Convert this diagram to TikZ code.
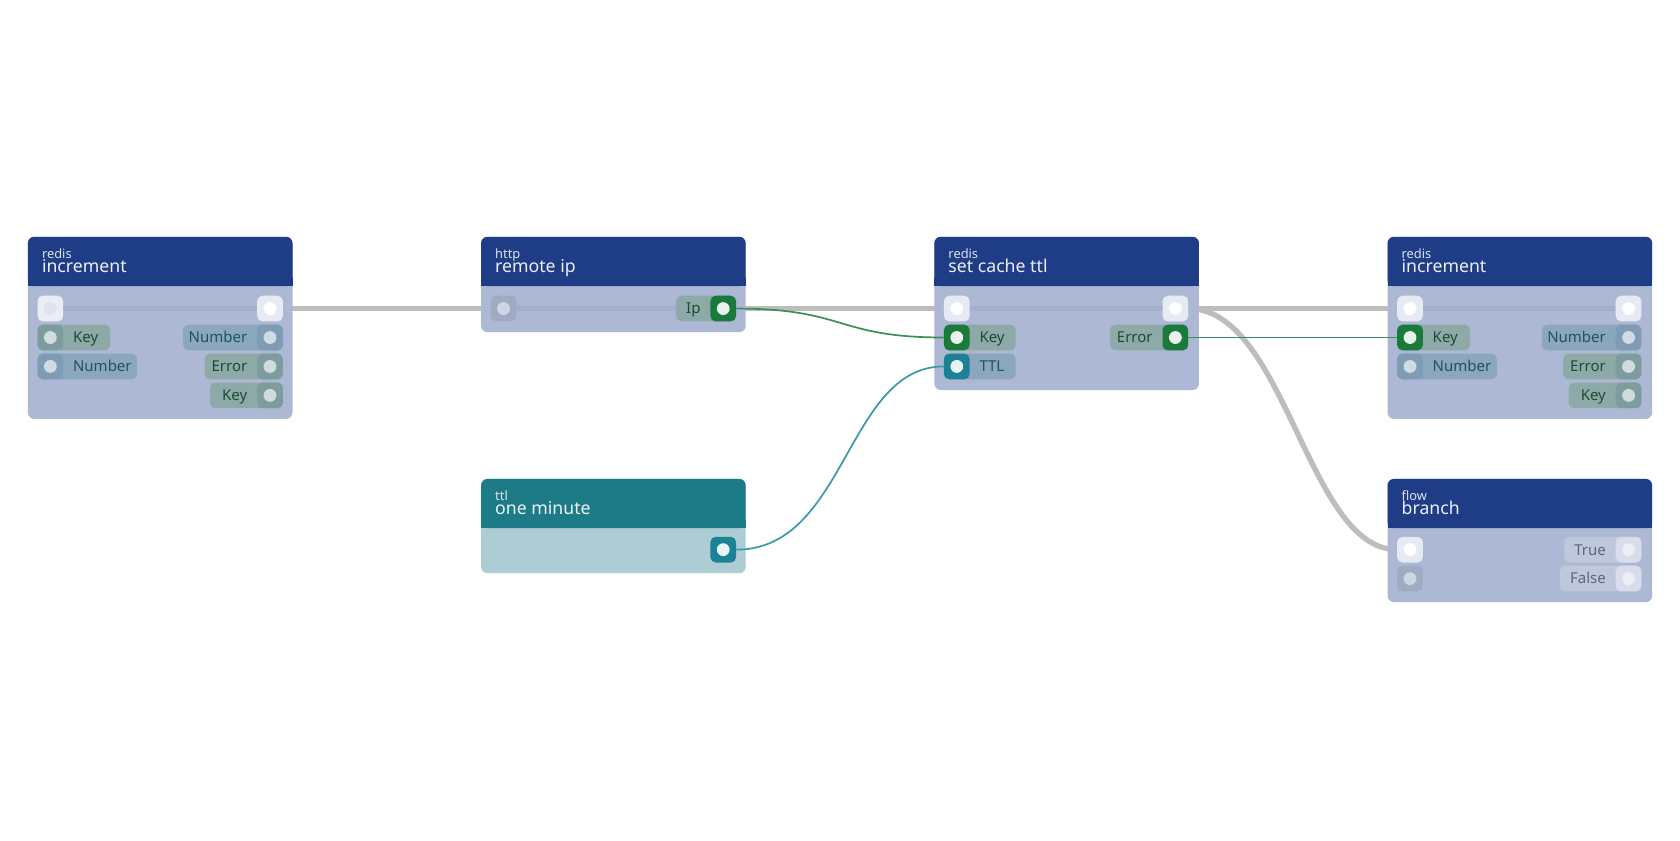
\documentclass[tikz,border=0pt]{standalone}
\usepackage{fontspec}
\setmainfont{Noto Sans}
\usetikzlibrary{positioning}

\definecolor{headblue}{HTML}{1F3D87}
\definecolor{bodyblue}{HTML}{ADB9D4}
\definecolor{headteal}{HTML}{1D7A87}
\definecolor{bodyteal}{HTML}{ADCCD3}
\definecolor{keypill}{HTML}{8DA9A8}
\definecolor{keysock}{HTML}{7E9C9E}
\definecolor{keytext}{HTML}{1D4D2E}
\definecolor{numpill}{HTML}{8AA7BC}
\definecolor{numsock}{HTML}{7F9CB4}
\definecolor{numtext}{HTML}{1E5468}
\definecolor{boolpill}{HTML}{BFC7DD}
\definecolor{booltext}{HTML}{5E6680}
\definecolor{wiregray}{HTML}{BDBDBD}
\definecolor{execline}{HTML}{A2AECB}
\definecolor{activegreen}{HTML}{1A7A3C}
\definecolor{activeteal}{HTML}{1A8294}
\definecolor{wiregreen}{HTML}{3A8F5A}
\definecolor{wireteal}{HTML}{3A9AA6}

\pgfdeclarelayer{wires}
\pgfsetlayers{wires,main}

\tikzset{
    sock/.style = {rectangle, rounded corners=5pt, minimum size=24pt, inner sep=0pt},
    plabel/.style = {font=\fontsize{14}{14}\selectfont, inner sep=0pt},
    exec/.style = {wiregray, line width=5pt},
}

% socket: name, x, y, background, dot
\newcommand{\sock}[5]{
    \node[sock, fill=#4] (#1) at (#2,#3) {};
    \fill[#5] (#1.center) circle (6pt);
}
% input pill: x, y, width, fill, text colour, label
\newcommand{\inpill}[6]{
    \fill[#4, rounded corners=5pt] (#1-12,#2-12) rectangle (#1-12+#3,#2+12);
    \node[plabel, text=#5, anchor=base west] at (#1+21,#2+5) {#6};
}
% output pill: x, y, width, fill, text colour, label
\newcommand{\outpill}[6]{
    \fill[#4, rounded corners=5pt] (#1+12-#3,#2-12) rectangle (#1+12,#2+12);
    \node[plabel, text=#5, anchor=base east] at (#1-21,#2+5) {#6};
}
% block: x, top, bottom, category, title, head, body
\newcommand{\block}[7]{
    \fill[#7, rounded corners=6pt] (#1,#2) rectangle (#1+247,#3);
    \fill[#6, rounded corners=6pt] (#1,#2) rectangle (#1+247,#2+46);
    \fill[#6] (#1,#2+38) rectangle (#1+247,#2+46);
    \node[anchor=base west, inner sep=0pt, text=white!85!#6, font=\fontsize{12}{12}\selectfont] at (#1+13,#2+20) {#4};
    \node[anchor=base west, inner sep=0pt, text=white!92!#6, font=\fontsize{16.5}{16.5}\selectfont] at (#1+13,#2+33) {#5};
}

\begin{document}
\begin{tikzpicture}[x=1pt, y=-1pt]

    \useasboundingbox (0,0) rectangle (1568,784);

    % redis increment (left)
    \block{26}{221}{391}{redis}{increment}{headblue}{bodyblue}
    \draw[execline, line width=4pt] (47,288) -- (252,288);
    \inpill{47}{315}{68}{keypill}{keytext}{Key}
    \inpill{47}{342}{93}{numpill}{numtext}{Number}
    \outpill{252}{315}{93}{numpill}{numtext}{Number}
    \outpill{252}{342}{73}{keypill}{keytext}{Error}
    \outpill{252}{369}{68}{keypill}{keytext}{Key}
    \sock{incA-in}{47}{288}{white!75!bodyblue}{white!60!bodyblue}
    \sock{incA-out}{252}{288}{white!70!bodyblue}{white}
    \sock{incA-key}{47}{315}{keysock}{white!60!keypill}
    \sock{incA-num}{47}{342}{numsock}{white!60!numpill}
    \sock{incA-onum}{252}{315}{numsock}{white!60!numpill}
    \sock{incA-err}{252}{342}{keysock}{white!60!keypill}
    \sock{incA-okey}{252}{369}{keysock}{white!60!keypill}

    % http remote ip
    \block{449}{221}{310}{http}{remote ip}{headblue}{bodyblue}
    \draw[execline, line width=4pt] (470,288) -- (675,288);
    \outpill{675}{288}{56}{keypill}{keytext}{Ip}
    \sock{http-in}{470}{288}{black!8!bodyblue}{white!40!bodyblue}
    \sock{http-ip}{675}{288}{activegreen}{white!90!activegreen}

    % ttl one minute
    \block{449}{447}{535}{ttl}{one minute}{headteal}{bodyteal}
    \sock{ttl-out}{675}{513}{activeteal}{white!90!activeteal}

    % redis set cache ttl
    \block{872}{221}{364}{redis}{set cache ttl}{headblue}{bodyblue}
    \draw[execline, line width=4pt] (893,288) -- (1097,288);
    \inpill{893}{315}{67}{keypill}{keytext}{Key}
    \inpill{893}{342}{67}{numpill}{numtext}{TTL}
    \outpill{1097}{315}{73}{keypill}{keytext}{Error}
    \sock{cache-in}{893}{288}{white!70!bodyblue}{white}
    \sock{cache-out}{1097}{288}{white!70!bodyblue}{white}
    \sock{cache-key}{893}{315}{activegreen}{white!90!activegreen}
    \sock{cache-ttl}{893}{342}{activeteal}{white!90!activeteal}
    \sock{cache-err}{1097}{315}{activegreen}{white!90!activegreen}

    % redis increment (right)
    \block{1295}{221}{391}{redis}{increment}{headblue}{bodyblue}
    \draw[execline, line width=4pt] (1316,288) -- (1520,288);
    \inpill{1316}{315}{68}{keypill}{keytext}{Key}
    \inpill{1316}{342}{93}{numpill}{numtext}{Number}
    \outpill{1520}{315}{93}{numpill}{numtext}{Number}
    \outpill{1520}{342}{73}{keypill}{keytext}{Error}
    \outpill{1520}{369}{68}{keypill}{keytext}{Key}
    \sock{incB-in}{1316}{288}{white!70!bodyblue}{white}
    \sock{incB-out}{1520}{288}{white!70!bodyblue}{white}
    \sock{incB-key}{1316}{315}{activegreen}{white!90!activegreen}
    \sock{incB-num}{1316}{342}{numsock}{white!60!numpill}
    \sock{incB-onum}{1520}{315}{numsock}{white!60!numpill}
    \sock{incB-err}{1520}{342}{keysock}{white!60!keypill}
    \sock{incB-okey}{1520}{369}{keysock}{white!60!keypill}

    % flow branch
    \block{1295}{447}{562}{flow}{branch}{headblue}{bodyblue}
    \outpill{1520}{513}{72}{boolpill}{booltext}{True}
    \outpill{1520}{540}{76}{boolpill}{booltext}{False}
    \sock{branch-in}{1316}{513}{white!70!bodyblue}{white}
    \sock{branch-no}{1316}{540}{black!8!bodyblue}{white!40!bodyblue}
    \sock{branch-true}{1520}{513}{white!40!boolpill}{white!70!boolpill}
    \sock{branch-false}{1520}{540}{white!40!boolpill}{white!70!boolpill}

    % wires, behind the blocks
    \coordinate (httpedge) at (695,288);
    \begin{pgfonlayer}{wires}
        \draw[exec] (incA-out) -- (http-in);
        \draw[exec] (httpedge) -- (cache-in);
        \draw[exec] (cache-out) -- (incB-in);
        \draw[exec] (cache-out) .. controls (1200,288) and (1220,513) .. (branch-in);
    \end{pgfonlayer}

    % data wires
    \draw[wiregreen, line width=1.6pt] (http-ip.east) .. controls (790,288) and (780,315) .. (cache-key.west);
    \draw[wiregreen, line width=1.6pt] (cache-err.east) -- (incB-key.west);
    \draw[wireteal, line width=1.6pt] (ttl-out.east) .. controls (790,513) and (790,342) .. (cache-ttl.west);

\end{tikzpicture}
\end{document}
